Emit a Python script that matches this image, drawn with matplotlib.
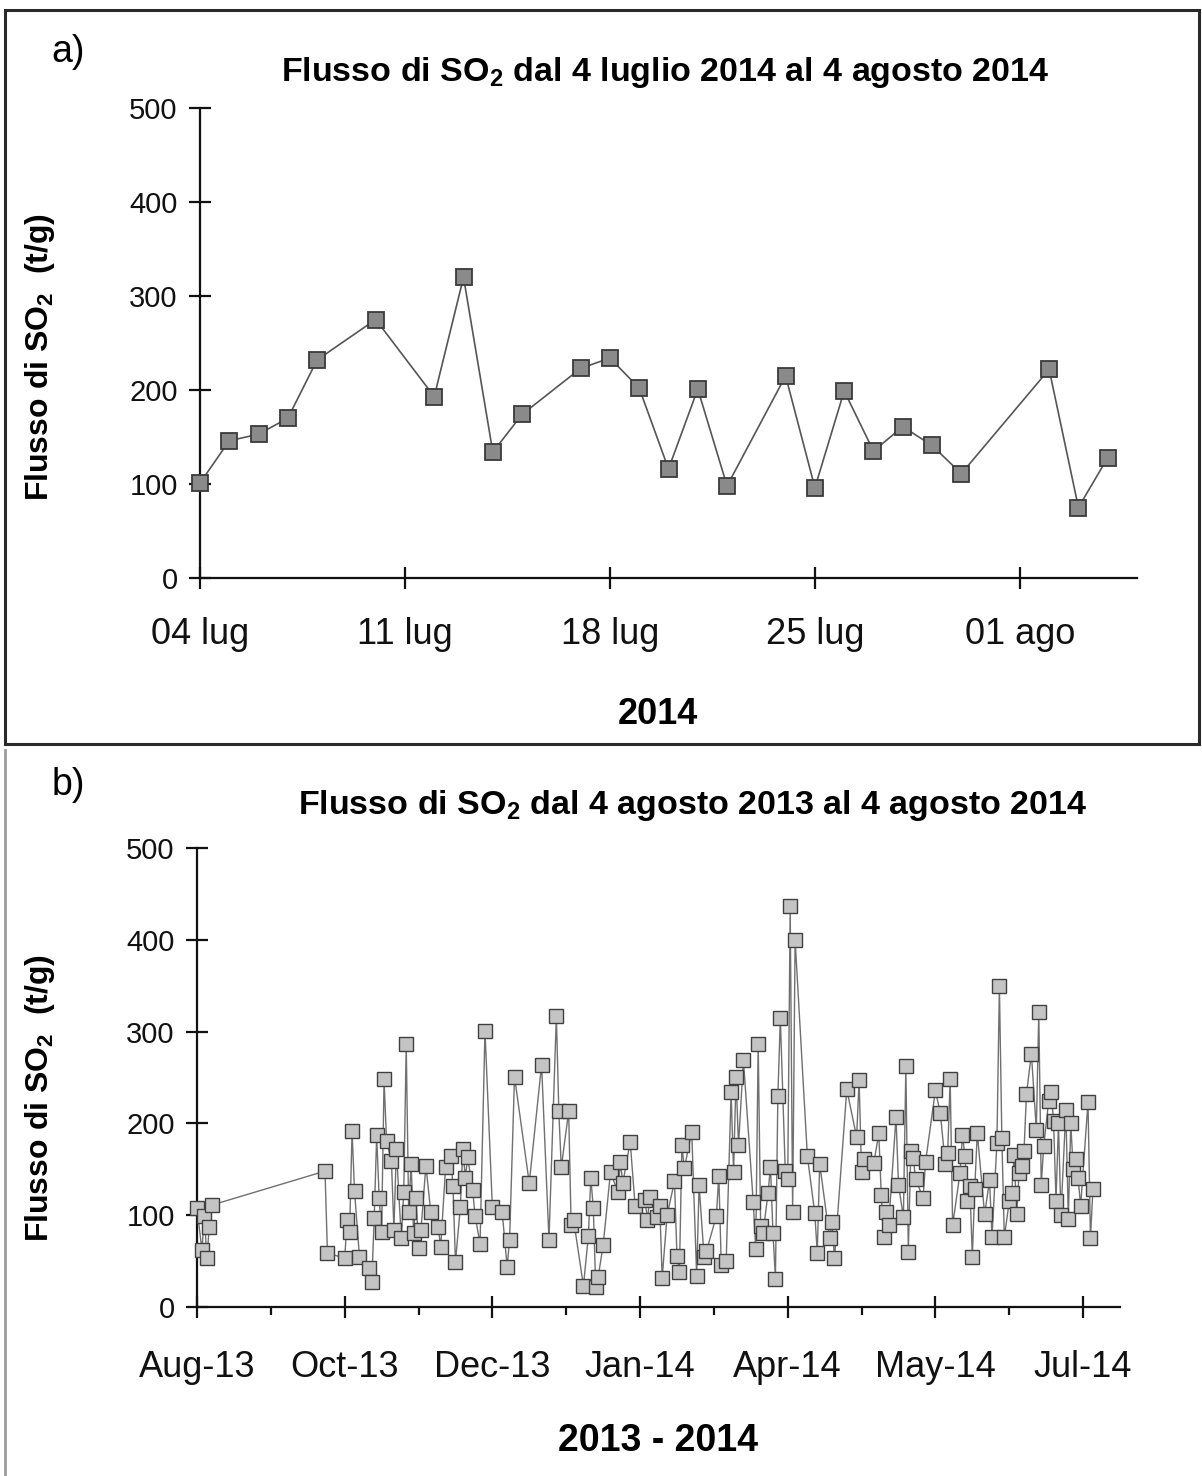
import numpy as np
import matplotlib
matplotlib.use("Agg")
import matplotlib.pyplot as plt
import matplotlib.dates as mdates
from matplotlib.patches import Rectangle
from matplotlib.lines import Line2D
from matplotlib.ticker import FixedLocator, FixedFormatter

plt.rcParams['font.family'] = ['Liberation Sans', 'DejaVu Sans']
plt.rcParams['mathtext.fontset'] = 'custom'
plt.rcParams['mathtext.rm'] = 'Liberation Sans'
plt.rcParams['mathtext.bf'] = 'Liberation Sans:bold'

# ---------------- data panel a ----------------
start_a = np.datetime64('2014-07-04')
days_a = [0, 1, 2, 3, 4, 6, 8, 9, 10, 11, 13, 14, 15, 16, 17, 18, 20, 21, 22, 23,
          24, 25, 26, 29, 30, 31]
vals_a = [101, 146, 153, 170, 232, 275, 193, 320, 134, 174, 223, 234, 202, 116,
          201, 98, 215, 96, 199, 135, 161, 141, 111, 222, 75, 128]
ticks_a_days = [0, 7, 14, 21, 28]
ticks_a_labels = ["04 lug", "11 lug", "18 lug", "25 lug", "01 ago"]

# ---------------- data panel b ----------------
start_b = np.datetime64('2013-08-04')
days_b = [0, 2, 3, 4, 5, 6,
          52, 53, 60, 61, 62, 63, 64, 66, 70, 71, 72, 73, 74, 75, 76, 77, 79, 80,
          81, 83, 84, 85, 86, 87, 88, 89, 90, 91, 93, 95, 98, 99, 101, 103, 104,
          105, 107, 108, 109, 110, 112, 113, 115, 117, 120, 124, 126, 127, 129,
          135, 140, 143, 146, 147, 148, 151, 152, 153, 157, 159, 160, 161, 162,
          163, 165, 168, 171, 172, 173, 176, 178, 182, 183, 184, 187, 188, 189,
          191, 194, 195, 196, 197, 198, 201, 203, 204, 206, 207, 211, 212, 213,
          215, 217, 218, 219, 220, 222, 226, 227, 228, 229, 230, 232, 233, 234,
          235, 236, 237, 239, 240, 241, 242, 243, 248, 251, 252, 253, 257, 258,
          259, 264, 268, 269, 270, 271, 275, 277, 278, 279, 280, 281, 284, 285,
          287, 288, 289, 290, 291, 292, 295, 296, 300, 302, 304, 305, 306, 307,
          310, 311, 312, 313, 314, 315, 316, 317, 320, 322, 323, 325, 326, 327,
          328, 330, 331, 332, 333, 334, 335, 336, 337, 339, 341, 342, 343, 344,
          346, 347, 348, 349, 350, 351, 353, 354, 355, 356, 357, 358, 359, 362,
          363, 364]
vals_b = [108, 62, 99, 53, 87, 111,
          148, 59, 53, 95, 82, 192, 126, 55, 42, 27, 97, 187, 119, 82, 248, 181,
          159, 84, 172, 75, 125, 286, 104, 156, 81, 119, 64, 84, 154, 103, 87, 65,
          152, 164, 132, 49, 109, 172, 141, 163, 127, 99, 69, 301, 109, 103, 44,
          73, 251, 135, 264, 73, 317, 213, 152, 213, 89, 95, 23, 77, 141, 108, 22,
          33, 67, 147, 125, 158, 135, 180, 110, 117, 95, 120, 98, 110, 32, 100,
          137, 56, 38, 176, 151, 191, 34, 133, 55, 61, 99, 143, 46, 50, 234, 147,
          251, 176, 269, 114, 63, 287, 88, 81, 124, 153, 81, 31, 230, 315, 148,
          139, 437, 103, 400, 164, 102, 59, 156, 75, 93, 53, 237, 185, 247, 147,
          161, 157, 189, 122, 76, 104, 89, 207, 133, 98, 262, 60, 170, 162, 139,
          119, 158, 236, 211, 156, 168, 248, 89, 146, 187, 165, 116, 132, 55, 129,
          190, 101, 138, 76, 179, 350, 184, 76, 115, 124, 166, 101, 146, 154, 170,
          232, 276, 193, 321, 133, 175, 224, 234, 203, 116, 200, 100, 215, 96, 200,
          150, 161, 140, 110, 223, 75, 128]
ticks_b_labels = ["Aug-13", "Oct-13", "Dec-13", "Jan-14", "Apr-14", "May-14", "Jul-14"]
ticks_b_days = [0, 60, 120, 180, 240, 300, 360]
minor_b_days = [30, 90, 150, 210, 270, 330]

yticks = [0, 100, 200, 300, 400, 500]

W, H = 1202, 1476
fig = plt.figure(figsize=(W / 100, H / 100), dpi=100)
fig.patch.set_facecolor('white')


def px_axes(l, t, r, b):
    return fig.add_axes([l / W, 1 - b / H, (r - l) / W, (b - t) / H])


def style_axes(ax):
    for s in ['top', 'right']:
        ax.spines[s].set_visible(False)
    for s in ['left', 'bottom']:
        ax.spines[s].set_linewidth(1.6)
        ax.spines[s].set_color('#111111')
    ax.set_facecolor('none')


ytl_fs = 21
xtl_fs = 26

# ---------------- panel a ----------------
ax1 = px_axes(200, 108, 1137, 578)
style_axes(ax1)
xa = start_a + np.array(days_a).astype('timedelta64[D]')
ax1.plot(xa.astype('datetime64[D]').astype(object), vals_a, color='#555555', lw=1.2,
         marker='s', markersize=12, markerfacecolor='#8a8a8a',
         markeredgecolor='#3a3a3a', markeredgewidth=1.3, clip_on=False, zorder=3)
ax1.set_xlim(mdates.date2num(start_a.astype(object)),
             mdates.date2num((start_a + np.timedelta64(32, 'D')).astype(object)))
ax1.set_ylim(0, 500)
tpos_a = [mdates.date2num((start_a + np.timedelta64(d, 'D')).astype(object)) for d in ticks_a_days]
ax1.xaxis.set_major_locator(FixedLocator(tpos_a))
ax1.xaxis.set_major_formatter(FixedFormatter(ticks_a_labels))
ax1.set_yticks(yticks)
ax1.tick_params(axis='y', direction='inout', length=16, width=1.6, pad=8,
                labelsize=ytl_fs, colors='#111111')
ax1.tick_params(axis='x', direction='inout', length=16, width=1.6, pad=20,
                labelsize=xtl_fs, colors='#111111')

# ---------------- panel b ----------------
ax2 = px_axes(197, 848, 1120, 1307)
style_axes(ax2)
xb = start_b + np.array(days_b).astype('timedelta64[D]')
ax2.plot(xb.astype('datetime64[D]').astype(object), vals_b, color='#707070', lw=1.0,
         marker='s', markersize=9.5, markerfacecolor='#c4c4c4',
         markeredgecolor='#404040', markeredgewidth=1.0, clip_on=False, zorder=3)
ax2.set_xlim(mdates.date2num(start_b.astype(object)),
             mdates.date2num((start_b + np.timedelta64(375, 'D')).astype(object)))
ax2.set_ylim(0, 500)
tpos_b = [mdates.date2num((start_b + np.timedelta64(d, 'D')).astype(object)) for d in ticks_b_days]
mpos_b = [mdates.date2num((start_b + np.timedelta64(d, 'D')).astype(object)) for d in minor_b_days]
ax2.xaxis.set_major_locator(FixedLocator(tpos_b))
ax2.xaxis.set_major_formatter(FixedFormatter(ticks_b_labels))
ax2.xaxis.set_minor_locator(FixedLocator(mpos_b))
ax2.set_yticks(yticks)
ax2.tick_params(axis='y', direction='inout', length=16, width=1.6, pad=8,
                labelsize=ytl_fs, colors='#111111')
ax2.tick_params(axis='x', which='major', direction='inout', length=16, width=1.6,
                pad=23, labelsize=xtl_fs, colors='#111111')
ax2.tick_params(axis='x', which='minor', direction='out', length=6, width=1.6,
                colors='#111111')

# ---------------- texts ----------------
def ftext(x, y, s, **kw):
    fig.text(x / W, 1 - y / H, s, **kw)

ftext(665, 72, r"Flusso di SO$_\mathbf{2}$ dal 4 luglio 2014 al 4 agosto 2014",
      fontsize=24.5, fontweight='bold', ha='center', va='center')
ftext(693, 805, r"Flusso di SO$_\mathbf{2}$ dal 4 agosto 2013 al 4 agosto 2014",
      fontsize=24.5, fontweight='bold', ha='center', va='center')
ftext(68, 52, "a)", fontsize=27, ha='center', va='center')
ftext(68, 785, "b)", fontsize=27, ha='center', va='center')
ftext(40, 357, r"Flusso di SO$_\mathbf{2}$  (t/g)", fontsize=23, fontweight='bold',
      rotation=90, ha='center', va='center')
ftext(40, 1098, r"Flusso di SO$_\mathbf{2}$  (t/g)", fontsize=23, fontweight='bold',
      rotation=90, ha='center', va='center')
ftext(658, 715, "2014", fontsize=26, fontweight='bold', ha='center', va='center')
ftext(658, 1441, "2013 - 2014", fontsize=27, fontweight='bold', ha='center', va='center')

# ---------------- frames ----------------
fig.patches.append(Rectangle((5 / W, 1 - 744 / H), (1199 - 5) / W, (744 - 10) / H,
                             transform=fig.transFigure, fill=False,
                             edgecolor='#2a2a2a', lw=2.2, zorder=0))
fig.lines.append(Line2D([5 / W, 5 / W], [0, 1 - 750 / H], transform=fig.transFigure,
                        color='#9a9a9a', lw=2.0))

fig.savefig('out.png', dpi=100, facecolor='white')
